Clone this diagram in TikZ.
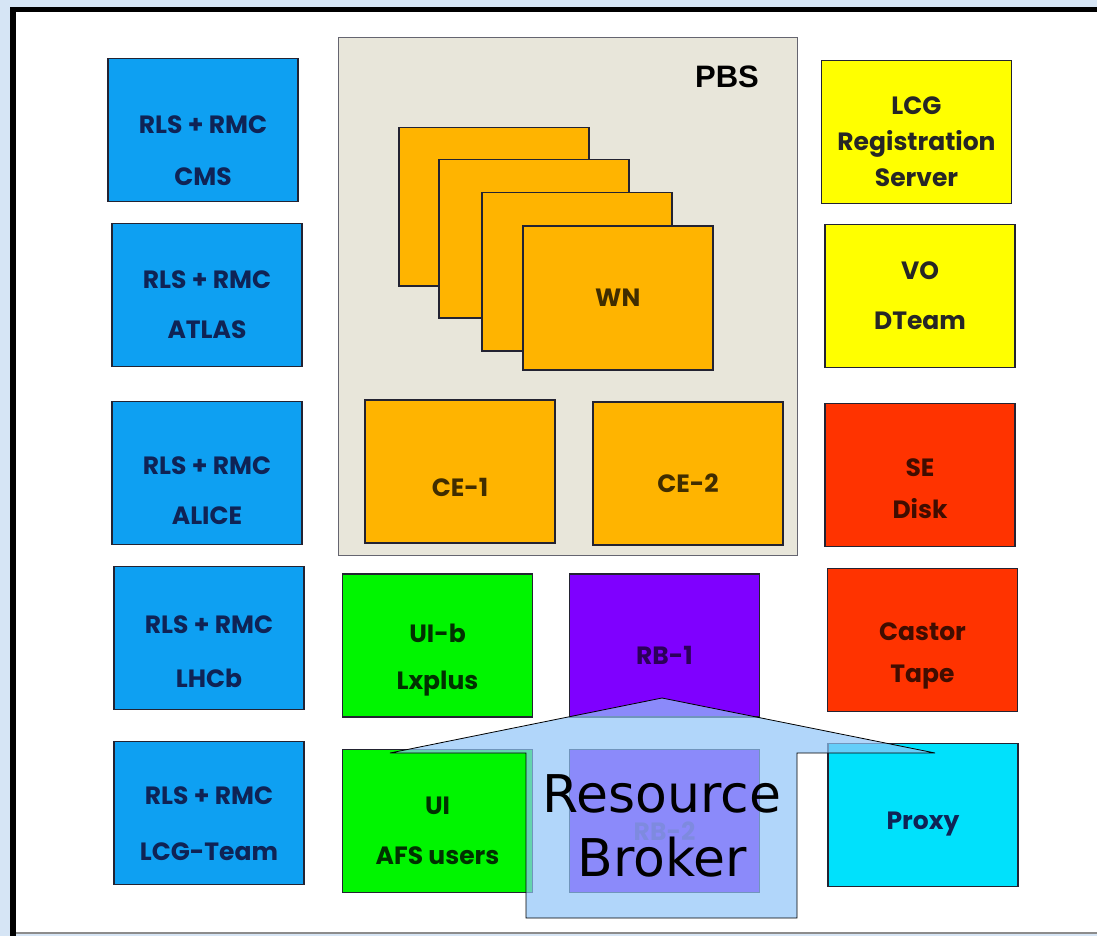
\documentclass[tikz,border=0pt]{standalone}
\usepackage{fontspec}
\newfontfamily\boxfont{Poppins}
\newfontfamily\pbsfont{Liberation Sans}
\newfontfamily\rbfont{DejaVu Sans}
\definecolor{frameblue}{RGB}{214,229,245}
\definecolor{rlsblue}{RGB}{14,160,242}
\definecolor{pbsgray}{RGB}{232,230,218}
\definecolor{wnorange}{RGB}{255,180,0}
\definecolor{lcgyellow}{RGB}{255,255,0}
\definecolor{sered}{RGB}{255,51,0}
\definecolor{uigreen}{RGB}{0,245,0}
\definecolor{rbpurple}{RGB}{127,0,255}
\definecolor{proxycyan}{RGB}{0,225,252}
\definecolor{callblue}{RGB}{145,198,248}
\definecolor{edge}{RGB}{35,35,50}
\definecolor{navy}{RGB}{15,35,85}

\begin{document}
\begin{tikzpicture}[x=1pt,y=-1pt,
    srv/.style={draw=edge,line width=1.5,fill=#1,minimum width=190,minimum height=143,inner sep=0},
    wncard/.style={draw=edge,line width=1.5,fill=wnorange,minimum width=190,minimum height=158,inner sep=0,anchor=north west},
    txt/.style={align=center,text=#1,yshift=-10,font=\boxfont\bfseries\fontsize{25}{50}\selectfont},
    txt/.default={black!85}]
    \useasboundingbox (0,0) rectangle (1097,936);
    % frame
    \fill[frameblue] (0,0) rectangle (1097,936);
    \fill[white] (13,10) rectangle (1097,934);
    \draw[line width=5.5] (13,936)--(13,9.5)--(1097,9.5);
    \draw[black!45,line width=2] (16,933)--(1097,933);

    % replica catalogues
    \node[srv=rlsblue,label={[txt=navy,yshift=-11]center:RLS + RMC\\[2pt]CMS}] (cms) at (203,130) {};
    \node[srv=rlsblue,label={[txt=navy]center:RLS + RMC\\ATLAS}] (atlas) at (207,295) {};
    \node[srv=rlsblue,label={[txt=navy,yshift=-8]center:RLS + RMC\\ALICE}] (alice) at (207,473) {};
    \node[srv=rlsblue,label={[txt=navy,yshift=-4]center:RLS + RMC\\[4pt]LHCb}] (lhcb) at (209,638) {};
    \node[srv=rlsblue,label={[txt=navy,yshift=-1]center:RLS + RMC\\[6pt]LCG-Team}] (lcgteam) at (209,813) {};

    % batch system
    \node[draw=edge!70,line width=1.2,fill=pbsgray,minimum width=459,minimum height=518,
      inner sep=0,anchor=north west] (pbs) at (338,37) {};
    \node[font=\pbsfont\bfseries\fontsize{31}{31}\selectfont] (pbslabel) at (727,77) {PBS};
    \foreach \x/\y [count=\i] in {398/127,438/159,481/192}
      \node[wncard] (wn\i) at (\x,\y) {};
    \node[wncard,minimum height=144,text=wnorange!25!black,
      font=\boxfont\bfseries\fontsize{25}{50}\selectfont] (wn4) at (522,225) {WN};
    \node[srv=wnorange,label={[txt=wnorange!25!black,yshift=-6]center:CE-1}] (ce1) at (460,471.5) {};
    \node[srv=wnorange,label={[txt=wnorange!25!black]center:CE-2}] (ce2) at (688,473.5) {};

    % user interfaces and brokers
    \node[srv=uigreen,label={[txt=uigreen!20!black,yshift=-5]center:{UI-b\\[-3pt]Lxplus}}] (uib) at (437.5,645.5) {};
    \node[srv=rbpurple,label={[txt=rbpurple!35!black]center:RB-1}] (rb1) at (664.5,645.5) {};
    \node[srv=uigreen,label={[txt=uigreen!20!black]center:UI\\AFS users}] (ui) at (437.5,821) {};
    \node[srv=rbpurple,label={[txt=rbpurple!65!black]center:RB-2}] (rb2) at (664.5,821) {};

    % services
    \node[srv=lcgyellow,label={[txt]center:{LCG\\[-14pt]Registration\\[-14pt]Server}}] (lcgreg) at (916.5,132) {};
    \node[srv=lcgyellow,label={[txt,yshift=10]center:VO\\DTeam}] (vo) at (920,296) {};
    \node[srv=sered,label={[txt=sered!25!black,yshift=-4]center:{SE\\[-8pt]Disk}}] (se) at (920,475) {};
    \node[srv=sered,label={[txt=sered!25!black,yshift=-6]center:{Castor\\[-8pt]Tape}}] (castor) at (922.5,640) {};
    \node[srv=proxycyan,label={[txt=navy,yshift=1]center:Proxy}] (proxy) at (923,815) {};

    % callout
    \draw[black,line width=0.8,fill=callblue,fill opacity=0.7]
      (390,753)--(662,698)--(935,753)--(797,753)--(797,918)--(526,918)--(526,753)--cycle;
    \node[font=\rbfont\fontsize{52}{64}\selectfont,align=center] (rbnote) at (662,826) {Resource\\Broker};
\end{tikzpicture}
\end{document}
